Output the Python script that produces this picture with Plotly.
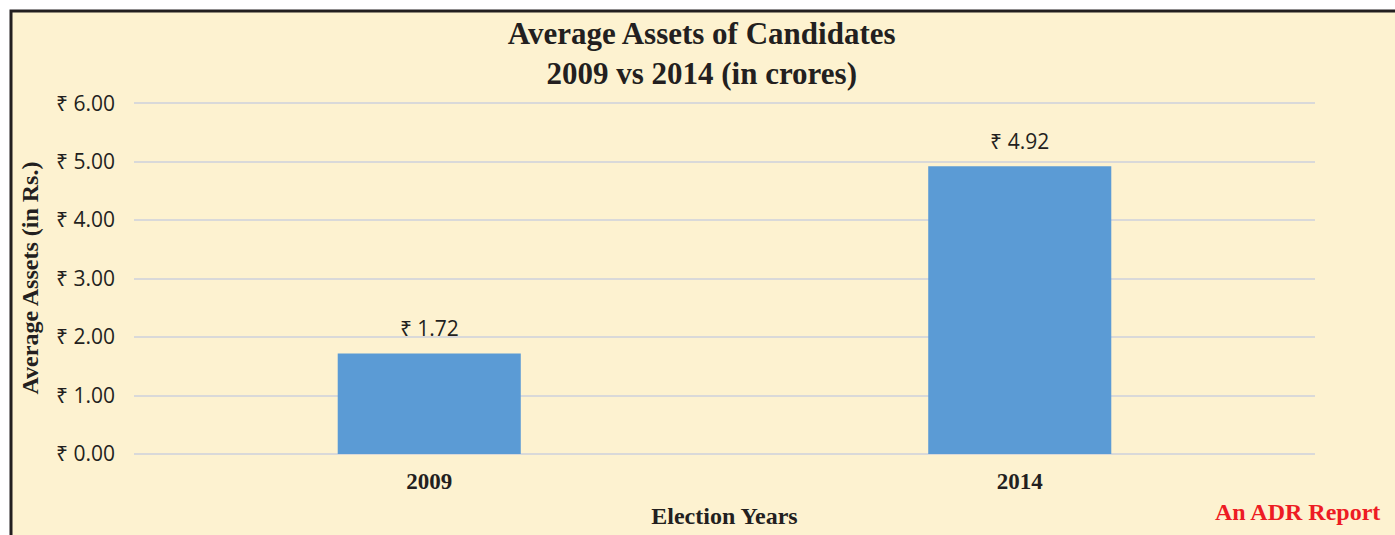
import plotly.graph_objects as go

years = ["2009", "2014"]
avg_assets = [1.72, 4.92]
tick_vals = [0, 1, 2, 3, 4, 5, 6]
tick_text = ["₹ 0.00", "₹ 1.00", "₹ 2.00", "₹ 3.00", "₹ 4.00", "₹ 5.00", "₹ 6.00"]
bar_labels = ["₹ 1.72", "₹ 4.92"]

serif = "Liberation Serif"
sans = "Open Sans"

fig = go.Figure()
fig.add_trace(go.Bar(
    x=years, y=avg_assets,
    marker=dict(color="#5B9BD5", line=dict(width=0)),
    width=0.31, hoverinfo="x+y",
))
fig.add_trace(go.Scatter(
    x=years, y=avg_assets, text=bar_labels, mode="markers+text",
    textposition="top center", marker=dict(size=18, opacity=0),
    textfont=dict(family=sans, size=21, color="#231F20"),
    hoverinfo="skip", cliponaxis=False,
))

W, H = 1395, 535
ml, mr, mt, mb = 134, 80, 102, 81
pw, ph = W - ml - mr, H - mt - mb

def px(x):
    return (x - ml) / pw

def py(y):
    return (H - mb - y) / ph

fig.add_shape(type="rect", xref="paper", yref="paper",
              x0=px(11), x1=px(W + 20), y0=py(H + 20), y1=py(11),
              fillcolor="#FDF2D0", line=dict(color="#231F20", width=3), layer="below")

fig.add_annotation(text="An ADR Report", xref="paper", yref="paper",
                   x=px(1382), y=py(512), xanchor="right", yanchor="middle",
                   showarrow=False, font=dict(family=serif, size=24, color="#ED1C24", weight="bold"))

fig.update_layout(
    width=W, height=H,
    margin=dict(l=ml, r=mr, t=mt, b=mb, autoexpand=False),
    paper_bgcolor="white", plot_bgcolor="rgba(0,0,0,0)",
    showlegend=False,
    title=dict(text="Average Assets of Candidates<br>2009 vs 2014 (in crores)",
               x=0.503, xanchor="center", y=1 - 44 / H, yanchor="middle",
               font=dict(family=serif, size=31, color="#231F20", weight="bold")),
    xaxis=dict(type="category", automargin=False, showgrid=False, showline=False, ticks="",
               ticklabelstandoff=11,
               tickfont=dict(family=serif, size=23, color="#231F20", weight="bold"),
               title=dict(text="Election Years", standoff=14,
                          font=dict(family=serif, size=24, color="#231F20", weight="bold"))),
    yaxis=dict(range=[0, 6.02], automargin=False, tickvals=tick_vals, ticktext=tick_text,
               showgrid=True, gridcolor="#D9D9D9", gridwidth=2,
               zeroline=True, zerolinecolor="#D9D9D9", zerolinewidth=2,
               showline=False, ticks="", ticklabelstandoff=18,
               tickfont=dict(family=sans, size=21, color="#231F20"),
               title=dict(text="Average Assets (in Rs.)", standoff=10,
                          font=dict(family=serif, size=24, color="#231F20", weight="bold"))),
)

fig.write_html("out.html", config={"displayModeBar": False},
               post_script="document.body.style.margin='0';")
